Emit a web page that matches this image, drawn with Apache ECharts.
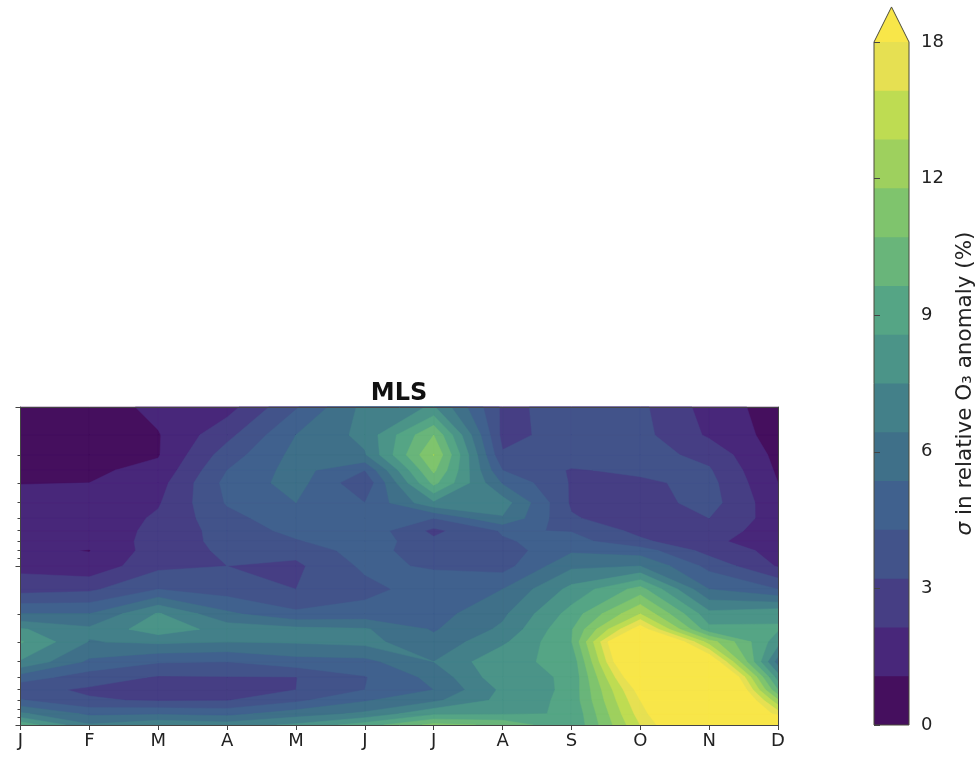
<!DOCTYPE html>
<html><head><meta charset="utf-8">
<style>html,body{margin:0;padding:0;background:#fff}#c{width:977px;height:757px}</style>
<script src="https://cdn.jsdelivr.net/npm/echarts@6/dist/echarts.min.js"></script>
</head><body><div id="c"></div>
<script>
const months = ['J','F','M','A','M','J','J','A','S','O','N','D'];
const levelsY = [0.1,0.15,0.2,0.25,0.3,0.4,0.5,0.6,0.7,0.8,1,1.4,2,2.5,3,4,5,6,7,8.5,10];
const minorTicks = [0.2,0.3,0.4,0.5,0.6,0.7,0.8,0.9,2,3,4,5,6,7,8,9];
const majorTicks = [0.1,1,10];
const cbTickLabels = {0:'0',3:'3',6:'6',9:'9',12:'12',15:'18'};
// contour boundaries of the colour bar, in %
const contourLevels = [0,1.07,2.14,3.21,4.29,5.36,6.43,7.5,8.57,9.64,10.71,11.79,12.86,13.93,15];
// sigma (%), one list per vertical level, one value per month
const r010=[.32,.43,1.39,1.71,4.18,6.75,7.61,3.0,3.54,3.43,1.71,.54];
const r015=[.54,.54,1.0,2.89,5.36,6.75,10.71,2.89,3.64,3.54,1.98,.64];
const r020=[.64,.75,1.0,3.75,5.68,6.32,11.84,3.32,3.86,3.64,2.89,.75];
const r025=[.86,.91,1.34,4.29,5.79,4.29,10.93,4.29,3.11,3.43,3.32,.91];
const r030=[1.05,1.07,1.71,4.61,5.79,3.43,9.96,5.25,3.11,3.0,3.54,1.07];
const r040=[1.29,1.29,2.04,4.39,5.36,4.29,7.29,6.96,3.05,2.68,3.64,1.39];
const r050=[1.39,1.39,2.30,3.96,4.93,4.71,4.29,6.32,3.32,2.57,3.21,1.61];
const r060=[1.45,1.39,2.46,3.64,4.61,5.04,2.95,4.39,4.23,2.89,2.46,1.82];
const r070=[1.50,1.34,2.57,3.54,4.18,5.04,3.43,4.18,4.71,3.43,2.30,1.71];
const r080=[1.23,1.04,2.68,3.38,3.54,4.82,3.54,3.75,5.20,4.82,2.79,1.82];
const r100=[1.82,1.39,2.95,3.21,3.0,4.5,4.18,3.86,6.21,6.43,3.96,2.04];
const r140=[2.79,3.0,4.29,3.75,3.21,3.96,4.82,5.36,7.82,10.07,5.36,4.29];
const r200=[5.36,5.36,7.61,5.57,4.5,4.71,4.93,6.21,9.0,12.86,7.82,8.36];
const r250=[7.61,6.64,8.14,7.07,6.75,6.54,5.25,6.64,9.54,15.75,8.89,8.68];
const r300=[8.68,6.37,6.64,6.43,6.54,6.75,5.68,7.29,9.59,19.82,12.32,7.93];
const r400=[7.39,5.14,4.39,4.29,4.93,5.04,6.43,8.36,8.79,18.86,16.61,5.89];
const r500=[4.82,3.75,3.11,3.16,3.19,4.23,5.68,8.25,8.68,16.93,20.36,8.04];
const r600=[3.54,3.05,2.25,2.25,3.21,4.29,5.36,7.71,8.84,15.59,21.43,9.64];
const r700=[4.39,3.32,3.11,3.16,4.07,5.25,6.21,7.82,8.89,15.0,21.43,12.0];
const r850=[6.64,5.14,5.25,5.04,5.89,6.64,8.36,8.46,8.63,14.46,19.29,14.57];
const r1000=[9.32,6.54,7.29,6.96,7.71,9.11,11.04,10.5,8.58,13.93,18.43,18.21];
const sigmaRows=[r010,r015,r020,r025,r030,r040,r050,r060,r070,r080,r100,r140,r200,r250,r300,r400,r500,r600,r700,r850,r1000];
const bandColors=['#450F5E','#48277A','#463E84','#42538A','#40618E','#3F7089','#438089','#4B9488','#55A585','#69B57A','#7FC46D','#9ED05E','#BEDC52','#E6E052','#F8E649'];
const CB_TOP=15, ARROW_TIP=15.77;

echarts.graphic.registerShape('multiPoly',echarts.graphic.extendShape({
  type:'multiPoly',shape:{polys:[]},
  buildPath(ctx,s){for(const p of s.polys){p.forEach((v,i)=>i?ctx.lineTo(v[0],v[1]):ctx.moveTo(v[0],v[1]));ctx.closePath();}}
}));
function clip(poly,lim){
  const out=[];
  for(let i=0;i<poly.length;i++){
    const a=poly[i],b=poly[(i+1)%poly.length];
    const ina=a[2]>=lim, inb=b[2]>=lim;
    if(ina) out.push(a);
    if(ina!==inb){const t=(lim-a[2])/(b[2]-a[2]);out.push([a[0]+t*(b[0]-a[0]),a[1]+t*(b[1]-a[1]),lim]);}
  }
  return out;
}
function renderBand(params,api){
  const k=api.value(0), polys=[], col=bandColors[k], lp=levelsY.map(Math.log10), lim=contourLevels[k];
  for(let r=0;r<levelsY.length-1;r++)for(let c=0;c<months.length-1;c++){
    const q=[[c,lp[r],sigmaRows[r][c]],[c+1,lp[r],sigmaRows[r][c+1]],[c+1,lp[r+1],sigmaRows[r+1][c+1]],[c,lp[r+1],sigmaRows[r+1][c]]];
    const p=clip(q,lim);
    if(p.length<3) continue;
    polys.push(p.map(v=>api.coord([v[0],Math.pow(10,v[1])])));
  }
  return {type:'multiPoly',shape:{polys},style:{fill:col,stroke:col,lineWidth:0.5}};
}
function renderCbBand(params,api){
  const k=api.value(0);
  const a=api.coord([0,contourLevels[k]]),b=api.coord([1,CB_TOP]);
  return {type:'rect',shape:{x:a[0],y:b[1],width:b[0]-a[0],height:a[1]-b[1]},style:{fill:bandColors[k]}};
}
function renderCbArrow(params,api){
  const pts=[[0,CB_TOP],[.5,ARROW_TIP],[1,CB_TOP]].map(p=>api.coord(p));
  const frame=[[0,0],[0,CB_TOP],[.5,ARROW_TIP],[1,CB_TOP],[1,0]].map(p=>api.coord(p));
  return {type:'group',children:[
    {type:'polygon',shape:{points:pts},style:{fill:bandColors[14]}},
    {type:'polygon',shape:{points:frame},style:{fill:'none',stroke:'#4a4a3a',lineWidth:1}}]};
}
const txt='#222', font='DejaVu Sans';
const logY=(o)=>Object.assign({type:'log',logBase:10,min:0.1,max:10,inverse:true,gridIndex:0,axisLabel:{show:false},splitLine:{show:false},minorTick:{show:false},minorSplitLine:{show:false},z:5},o);
const chart=echarts.init(document.getElementById('c'),null,{renderer:'canvas'});
chart.setOption({
  animation:false,
  textStyle:{fontFamily:font},
  title:{text:'MLS',left:394,top:377,textAlign:'center',textStyle:{fontFamily:font,fontWeight:'bold',fontSize:24,color:'#111'}},
  grid:[{left:20.5,right:199,top:407,bottom:32},{left:874,right:67,top:42,bottom:32}],
  xAxis:[
    {type:'value',gridIndex:0,min:0,max:11,interval:1,splitLine:{show:false},z:5,
     axisLine:{lineStyle:{color:'#444',width:1}},axisTick:{length:5,lineStyle:{color:'#444'}},
     axisLabel:{fontSize:18,color:txt,margin:7,fontFamily:font,hideOverlap:false,showMinLabel:true,showMaxLabel:true,formatter:v=>months[v]}},
    {type:'value',gridIndex:0,min:0,max:11,position:'top',z:5,splitLine:{show:false},axisTick:{show:false},axisLabel:{show:false},axisLine:{lineStyle:{color:'#444',width:1}}},
    {type:'value',gridIndex:1,min:0,max:1,show:false,splitLine:{show:false}}
  ],
  yAxis:[
    logY({position:'left',axisLine:{show:true,lineStyle:{color:'#444',width:1}},axisTick:{show:true,length:3,customValues:minorTicks,lineStyle:{color:'#444'}}}),
    logY({position:'left',axisLine:{show:false},axisTick:{show:true,length:5,customValues:majorTicks,lineStyle:{color:'#444'}}}),
    logY({position:'right',axisLine:{show:true,lineStyle:{color:'#444',width:1}},axisTick:{show:false}}),
    {type:'value',gridIndex:1,min:0,max:CB_TOP,interval:3,position:'right',splitLine:{show:false},z:5,
     axisLine:{show:false},axisTick:{show:true,length:6,lineStyle:{color:'#444'}},
     axisLabel:{fontSize:18,color:txt,margin:12,fontFamily:font,formatter:v=>cbTickLabels[v]},
     name:'{i|σ} in relative O₃ anomaly (%)',nameLocation:'middle',nameRotate:90,nameGap:45,
     nameTextStyle:{fontSize:21.5,color:txt,fontFamily:font,rich:{i:{fontStyle:'italic',fontSize:21.5,color:txt,fontFamily:font}}}}
  ],
  series:[
    {type:'custom',xAxisIndex:0,yAxisIndex:0,data:bandColors.map((c,i)=>[i]),renderItem:renderBand,silent:true,z:2},
    {type:'custom',xAxisIndex:2,yAxisIndex:3,data:bandColors.slice(0,14).map((c,i)=>[i]),renderItem:renderCbBand,silent:true,z:2},
    {type:'custom',xAxisIndex:2,yAxisIndex:3,data:[[0]],renderItem:renderCbArrow,silent:true,z:3}
  ]
});
</script></body></html>
